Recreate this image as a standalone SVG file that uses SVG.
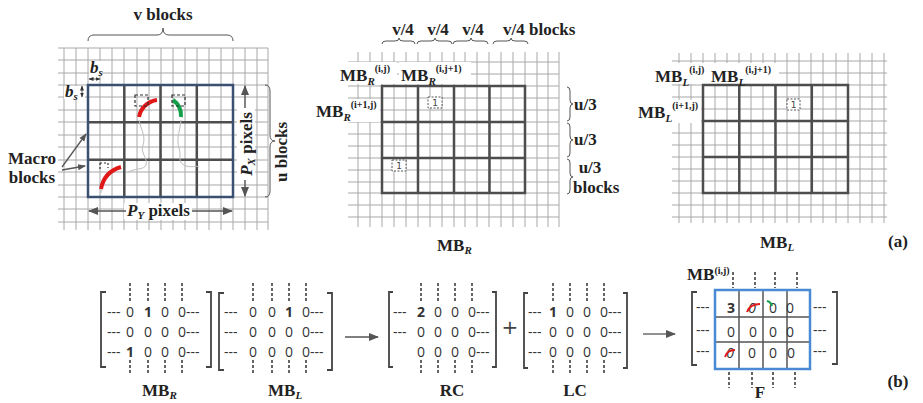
<svg xmlns="http://www.w3.org/2000/svg" width="923" height="403" viewBox="0 0 923 403">
<style>
.thin{stroke:#a8a8a8;stroke-width:1;fill:none}
.thick{stroke:#4d4d4d;stroke-width:2.5;fill:none}
.brace{stroke:#555;stroke-width:1;fill:none}
.lbl{font-family:"Liberation Serif",serif;font-weight:bold;font-size:17px;fill:#222}
.sub{font-style:italic;font-size:11px}
.sup{font-size:10px}
.dig{font-family:"Open Sans","DejaVu Sans",sans-serif;font-size:14px;fill:#333;text-anchor:middle}
.dash{font-family:"Open Sans","DejaVu Sans",sans-serif;font-size:14px;fill:#333}
.vd{stroke:#333;stroke-width:1.5;stroke-dasharray:3,2;fill:none}
.brk{stroke:#444;stroke-width:1.8;fill:none}
.box{stroke:#555;stroke-width:1;stroke-dasharray:2,1.5;fill:#fff}
.one{font-family:"DejaVu Sans",sans-serif;font-size:9px;fill:#444;text-anchor:middle}
.arr{stroke:#555;stroke-width:1.3;fill:none}
</style>
<defs>
<marker id="ah" markerWidth="8" markerHeight="8" refX="7" refY="4" orient="auto" markerUnits="userSpaceOnUse">
<path d="M0,1 L8,4 L0,7 Z" fill="#555"/>
</marker>
<marker id="ahs" markerWidth="5" markerHeight="5" refX="4.5" refY="2.5" orient="auto-start-reverse" markerUnits="userSpaceOnUse">
<path d="M0,0.5 L5,2.5 L0,4.5 Z" fill="#333"/>
</marker>
<marker id="ahb" markerWidth="10" markerHeight="10" refX="9" refY="5" orient="auto-start-reverse" markerUnits="userSpaceOnUse">
<path d="M0,1 L10,5 L0,9 Z" fill="#555"/>
</marker>
</defs>
<rect width="923" height="403" fill="#fff"/>

<!-- Panel 1: image grid -->
<g id="panel-image">
<path class="thin" d="M64,48V230M76,48V230M88,48V230M100,48V230M112,48V230M124,48V230M137,48V230M149,48V230M161,48V230M173,48V230M185,48V230M197,48V230M209,48V230M221,48V230M233,48V230M245,48V230M257,48V230M268,48V230"/>
<path class="thin" d="M58,48H268M58,60H268M58,73H268M58,85H268M58,97H268M58,110H268M58,122H268M58,135H268M58,147H268M58,160H268M58,172H268M58,185H268M58,197H268M58,209H268M58,222H268"/>
<path class="thick" d="M124.3,85V197M160.5,85V197M196.8,85V197M88,122.3H233M88,159.7H233"/>
<rect x="88" y="85" width="145" height="112" fill="none" stroke="#3b4f72" stroke-width="2.5"/>
<path d="M139,120 C141,130 146,136 143,145 C140,153 148,158 146,165 C144,170 136,168 128,172" stroke="#bdbdbd" stroke-width="1" fill="none"/>
<path d="M181,120 C180,132 176,138 179,148 C182,156 176,162 186,166 C192,168 196,165 199,167" stroke="#bdbdbd" stroke-width="1" fill="none"/>
<path d="M101,193 C101,185 106,174 112,170" stroke="#bdbdbd" stroke-width="1" fill="none"/>
<path d="M139,117 A21,21 0 0 1 157,100" stroke="#e01818" stroke-width="4" fill="none"/>
<path d="M173,100 A19,19 0 0 1 181,117" stroke="#14a04a" stroke-width="4" fill="none"/>
<path d="M101,189 Q104,172 121,167" stroke="#e01818" stroke-width="4" fill="none"/>
<rect x="135" y="95" width="13" height="11" fill="none" stroke="#333" stroke-width="1.2" stroke-dasharray="3,2"/>
<rect x="172" y="95" width="13" height="11" fill="none" stroke="#333" stroke-width="1.2" stroke-dasharray="3,2"/>
<path d="M100,163V170M108,163V168M100,163H108" stroke="#333" stroke-width="1.2" stroke-dasharray="2,2" fill="none"/>
<text class="lbl" x="163" y="20" text-anchor="middle">v blocks</text>
<path class="brace" d="M88,41 Q88,35 94,35 L157,35 Q163,35 163,28 Q163,35 169,35 L227,35 Q233,35 233,41"/>
<rect x="89" y="61" width="13" height="14" fill="#fff"/>
<text class="lbl" x="90" y="73" font-size="15"><tspan font-style="italic">b</tspan><tspan class="sub" font-size="9" dy="3">s</tspan></text>
<line x1="89" y1="79" x2="100" y2="79" stroke="#333" stroke-width="0.8" marker-start="url(#ahs)" marker-end="url(#ahs)"/>
<rect x="64" y="86" width="21" height="13" fill="#fff"/>
<text class="lbl" x="65" y="97" font-size="15"><tspan font-style="italic">b</tspan><tspan class="sub" font-size="9" dy="3">s</tspan></text>
<line x1="82" y1="86" x2="82" y2="97" stroke="#333" stroke-width="0.8" marker-start="url(#ahs)" marker-end="url(#ahs)"/>
<rect x="4" y="148" width="54" height="38" fill="#fff"/>
<text class="lbl" x="32" y="164" text-anchor="middle">Macro</text>
<text class="lbl" x="32" y="183" text-anchor="middle">blocks</text>
<line class="arr" x1="62" y1="167" x2="86" y2="134" marker-end="url(#ah)"/>
<line class="arr" x1="62" y1="170" x2="85" y2="166" marker-end="url(#ah)"/>
<rect x="124" y="203" width="68" height="16" fill="#fff"/>
<line class="arr" x1="89" y1="211" x2="232" y2="211" marker-start="url(#ahb)" marker-end="url(#ahb)"/>
<rect x="126" y="203" width="66" height="17" fill="#fff"/>
<text class="lbl" x="127" y="216"><tspan font-style="italic">P</tspan><tspan class="sub" dy="3">Y</tspan><tspan dy="-3"> pixels</tspan></text>
<line class="arr" x1="245" y1="86" x2="245" y2="196" marker-start="url(#ahb)" marker-end="url(#ahb)"/>
<rect x="237" y="108" width="18" height="72" fill="#fff"/>
<text class="lbl" transform="translate(252,144) rotate(-90)" text-anchor="middle"><tspan font-style="italic">P</tspan><tspan class="sub" dy="3">X</tspan><tspan dy="-3"> pixels</tspan></text>
<path class="brace" d="M265,85 Q270,85 270,91 L270,135 Q270,141 275,141 Q270,141 270,147 L270,191 Q270,197 265,197"/>
<text class="lbl" transform="translate(287,152) rotate(-90)" text-anchor="middle">u blocks</text>
</g>

<!-- Panel 2: MB_R grid -->
<g id="panel-mbr">
<path class="thin" d="M358,52V227M370,52V227M382,52V227M394,52V227M406,52V227M418,52V227M430,52V227M442,52V227M454,52V227M465,52V227M477,52V227M489,52V227M501,52V227M513,52V227M525,52V227M537,52V227M548,52V227M559,52V227"/>
<path class="thin" d="M348,62H559M348,74H559M348,86H559M348,98H559M348,110H559M348,122H559M348,134H559M348,146H559M348,158H559M348,170H559M348,182H559M348,193H559M348,205H559M348,217H559"/>
<rect x="338" y="62" width="59" height="22" fill="#fff"/>
<rect x="399" y="62" width="72" height="22" fill="#fff"/>
<rect x="314" y="99" width="66" height="23" fill="#fff"/>
<path class="thick" d="M382,86H525V193H382Z M418,86V193M454,86V193M489.5,86V193M382,122H525M382,158H525"/>
<rect x="428" y="97" width="14" height="11" class="box"/>
<text class="one" x="435" y="106">1</text>
<rect x="392" y="160" width="14" height="11" class="box"/>
<text class="one" x="399" y="169">1</text>
<text class="lbl" x="340" y="81">MB<tspan class="sub" dy="4">R</tspan><tspan class="sup" dy="-13">(i,j)</tspan></text>
<text class="lbl" x="401" y="81">MB<tspan class="sub" dy="4">R</tspan><tspan class="sup" dy="-13">(i,j+1)</tspan></text>
<text class="lbl" x="316" y="117">MB<tspan class="sub" dy="4">R</tspan><tspan class="sup" dy="-13">(i+1,j)</tspan></text>
<text class="lbl" x="403" y="35" text-anchor="middle" font-size="15">v/4</text>
<text class="lbl" x="438" y="35" text-anchor="middle" font-size="15">v/4</text>
<text class="lbl" x="473" y="35" text-anchor="middle" font-size="15">v/4</text>
<text class="lbl" x="503" y="35" font-size="15">v/4 blocks</text>
<path class="brace" d="M382,44 Q382,41 386,41 L395,41 Q399,41 399,38 Q399,41 403,41 L411,41 Q415,41 415,44"/>
<path class="brace" d="M417,44 Q417,41 421,41 L431,41 Q435,41 435,38 Q435,41 439,41 L448,41 Q452,41 452,44"/>
<path class="brace" d="M453,44 Q453,41 457,41 L467,41 Q471,41 471,38 Q471,41 475,41 L484,41 Q488,41 488,44"/>
<path class="brace" d="M493,44 Q493,41 497,41 L507,41 Q511,41 511,38 Q511,41 515,41 L524,41 Q528,41 528,44"/>
<path class="brace" d="M567,87 Q570,87 570,91 L570,100 Q570,104 573,104 Q570,104 570,108 L570,117 Q570,121 567,121"/>
<path class="brace" d="M567,123 Q570,123 570,127 L570,136 Q570,140 573,140 Q570,140 570,144 L570,153 Q570,157 567,157"/>
<path class="brace" d="M567,159 Q570,159 570,163 L570,173 Q570,177 573,177 Q570,177 570,181 L570,190 Q570,194 567,194"/>
<text class="lbl" x="574" y="110" font-size="15">u/3</text>
<text class="lbl" x="574" y="145" font-size="15">u/3</text>
<text class="lbl" x="590" y="173" font-size="15" text-anchor="middle">u/3</text>
<text class="lbl" x="573" y="193" font-size="15">blocks</text>
<text class="lbl" x="437" y="251">MB<tspan class="sub" dy="3">R</tspan></text>
</g>

<!-- Panel 3: MB_L grid -->
<g id="panel-mbl">
<path class="thin" d="M679,53V223M691,53V223M703,53V223M715,53V223M727,53V223M739,53V223M751,53V223M763,53V223M775,53V223M787,53V223M799,53V223M811,53V223M823,53V223M836,53V223M848,53V223M860,53V223M872,53V223M884,53V223"/>
<path class="thin" d="M672,61H887M672,73H887M672,85H887M672,97H887M672,109H887M672,121H887M672,133H887M672,145H887M672,157H887M672,169H887M672,181H887M672,193H887M672,205H887M672,217H887"/>
<rect x="653" y="63" width="57" height="21" fill="#fff"/>
<rect x="710" y="63" width="69" height="21" fill="#fff"/>
<rect x="636" y="100" width="65" height="23" fill="#fff"/>
<path class="thick" d="M703,85H848V193H703Z M739.3,85V193M775.5,85V193M811.8,85V193M703,121H848M703,157H848"/>
<rect x="787" y="99" width="13" height="11" class="box"/>
<text class="one" x="793.5" y="108">1</text>
<text class="lbl" x="655" y="82">MB<tspan class="sub" dy="4">L</tspan><tspan class="sup" dy="-13">(i,j)</tspan></text>
<text class="lbl" x="711" y="82">MB<tspan class="sub" dy="4">L</tspan><tspan class="sup" dy="-13">(i,j+1)</tspan></text>
<text class="lbl" x="638" y="118">MB<tspan class="sub" dy="4">L</tspan><tspan class="sup" dy="-13">(i+1,j)</tspan></text>
<text class="lbl" x="760" y="248">MB<tspan class="sub" dy="3">L</tspan></text>
<text class="lbl" x="898" y="247" text-anchor="middle" font-size="16">(a)</text>
</g>

<!-- Bottom: MB_R matrix -->
<g id="mat-mbr">
<path class="brk" d="M106,292H101V367H106M206,292H211V367H206"/>
<path class="vd" d="M130,283V303M148,283V303M165,283V303M182,283V303M130,360V375M148,360V375M165,360V375M182,360V375"/>
<text class="dash" x="107" y="317">---</text><text class="dig" x="130" y="317">0</text><text class="dig" x="148" y="317" font-weight="bold">1</text><text class="dig" x="165" y="317">0</text><text class="dig" x="182" y="317">0</text><text class="dash" x="186" y="317">---</text>
<text class="dash" x="107" y="337">---</text><text class="dig" x="130" y="337">0</text><text class="dig" x="148" y="337">0</text><text class="dig" x="165" y="337">0</text><text class="dig" x="182" y="337">0</text><text class="dash" x="186" y="337">---</text>
<text class="dash" x="107" y="357">---</text><text class="dig" x="130" y="357" font-weight="bold">1</text><text class="dig" x="148" y="357">0</text><text class="dig" x="165" y="357">0</text><text class="dig" x="182" y="357">0</text><text class="dash" x="186" y="357">---</text>
<text class="lbl" x="142" y="396">MB<tspan class="sub" dy="3">R</tspan></text>
</g>

<!-- Bottom: MB_L matrix -->
<g id="mat-mbl">
<path class="brk" d="M224,293H219V370H224M327,293H332V370H327"/>
<path class="vd" d="M253,283V303M272,283V303M289,283V303M306,283V303M253,360V375M272,360V375M289,360V375M306,360V375"/>
<text class="dash" x="224" y="317">---</text><text class="dig" x="253" y="317">0</text><text class="dig" x="272" y="317">0</text><text class="dig" x="289" y="317" font-weight="bold">1</text><text class="dig" x="306" y="317">0</text><text class="dash" x="310" y="317">---</text>
<text class="dash" x="224" y="337">---</text><text class="dig" x="253" y="337">0</text><text class="dig" x="272" y="337">0</text><text class="dig" x="289" y="337">0</text><text class="dig" x="306" y="337">0</text><text class="dash" x="310" y="337">---</text>
<text class="dash" x="224" y="357">---</text><text class="dig" x="253" y="357">0</text><text class="dig" x="272" y="357">0</text><text class="dig" x="289" y="357">0</text><text class="dig" x="306" y="357">0</text><text class="dash" x="310" y="357">---</text>
<text class="lbl" x="268" y="396">MB<tspan class="sub" dy="3">L</tspan></text>
</g>

<!-- Bottom: RC matrix -->
<g id="mat-rc">
<path class="brk" d="M393,292H389V367H393M492,292H496V367H492"/>
<path class="vd" d="M421,283V303M438,283V303M455,283V303M472,283V303M421,360V373M438,360V373M455,360V373M472,360V373"/>
<text class="dash" x="393" y="317">---</text><text class="dig" x="421" y="317" font-weight="bold">2</text><text class="dig" x="438" y="317">0</text><text class="dig" x="455" y="317">0</text><text class="dig" x="472" y="317">0</text><text class="dash" x="476" y="317">---</text>
<text class="dash" x="393" y="337">---</text><text class="dig" x="421" y="337">0</text><text class="dig" x="438" y="337">0</text><text class="dig" x="455" y="337">0</text><text class="dig" x="472" y="337">0</text><text class="dash" x="476" y="337">---</text>
<text class="dig" x="421" y="357">0</text><text class="dig" x="438" y="357">0</text><text class="dig" x="455" y="357">0</text><text class="dig" x="472" y="357">0</text><text class="dash" x="476" y="357">---</text>
<text class="lbl" x="452" y="396" text-anchor="middle">RC</text>
</g>

<text x="510" y="334" font-family="'DejaVu Sans',sans-serif" font-size="20" fill="#444" text-anchor="middle">+</text>

<!-- Bottom: LC matrix -->
<g id="mat-lc">
<path class="brk" d="M528,293H524V368H528M623,293H627V368H623"/>
<path class="vd" d="M553,283V303M570,283V303M587,283V303M604,283V303M553,360V373M570,360V373M587,360V373M604,360V373"/>
<text class="dash" x="528" y="317">---</text><text class="dig" x="553" y="317" font-weight="bold">1</text><text class="dig" x="570" y="317">0</text><text class="dig" x="587" y="317">0</text><text class="dig" x="604" y="317">0</text><text class="dash" x="608" y="317">---</text>
<text class="dash" x="528" y="337">---</text><text class="dig" x="553" y="337">0</text><text class="dig" x="570" y="337">0</text><text class="dig" x="587" y="337">0</text><text class="dig" x="604" y="337">0</text><text class="dash" x="608" y="337">---</text>
<text class="dash" x="528" y="357">---</text><text class="dig" x="553" y="357">0</text><text class="dig" x="570" y="357">0</text><text class="dig" x="587" y="357">0</text><text class="dig" x="604" y="357">0</text><text class="dash" x="608" y="357">---</text>
<text class="lbl" x="575" y="396" text-anchor="middle">LC</text>
</g>

<!-- Bottom: F matrix -->
<g id="mat-f">
<path class="brk" d="M697,292H692V365H697M832,292H837V364H832"/>
<path class="vd" d="M733,272V288M755,272V288M775,272V288M797,272V288M729,372V388M752,372V388M773,372V388M795,372V388"/>
<path d="M739,290V369M763,290V369M787,290V369M715,317H810M715,342H810" stroke="#555" stroke-width="1.5" fill="none"/>
<rect x="715" y="290" width="95" height="79" fill="none" stroke="#4a8ad4" stroke-width="2.5"/>
<text class="dash" x="696" y="312">---</text><text class="dash" x="813" y="312">---</text>
<text class="dash" x="696" y="335">---</text><text class="dash" x="813" y="335">---</text>
<text class="dash" x="696" y="356">---</text><text class="dash" x="813" y="356">---</text>
<text class="dig" x="731" y="313" font-size="16" font-weight="bold">3</text><text class="dig" x="752" y="313" font-size="16" font-style="italic">0</text><text class="dig" x="773" y="313" font-size="16">0</text><text class="dig" x="790" y="313" font-size="16">0</text>
<text class="dig" x="731" y="337" font-size="16">0</text><text class="dig" x="753" y="337" font-size="16">0</text><text class="dig" x="773" y="337" font-size="16">0</text><text class="dig" x="790" y="337" font-size="16">0</text>
<text class="dig" x="730" y="358" font-size="16" font-style="italic">0</text><text class="dig" x="752" y="358" font-size="16">0</text><text class="dig" x="773" y="358" font-size="16">0</text><text class="dig" x="791" y="358" font-size="16">0</text>
<path d="M747,312 Q750,304 760,304" stroke="#e01818" stroke-width="2" fill="none"/>
<path d="M767,301 Q771,302 772,306" stroke="#14a04a" stroke-width="2" fill="none"/>
<path d="M725,357 Q727,350 735,350" stroke="#e01818" stroke-width="2" fill="none"/>
<text class="lbl" x="687" y="280">MB<tspan class="sup" dy="-6">(i,j)</tspan></text>
<text class="lbl" x="760" y="398" text-anchor="middle">F</text>
<text class="lbl" x="898" y="387" text-anchor="middle" font-size="16">(b)</text>
</g>

<!-- Connectors -->
<g id="connectors">
<line class="arr" x1="345" y1="337" x2="378" y2="337" marker-end="url(#ahb)"/>
<line class="arr" x1="643" y1="334" x2="675" y2="334" marker-end="url(#ahb)"/>
</g>
</svg>
